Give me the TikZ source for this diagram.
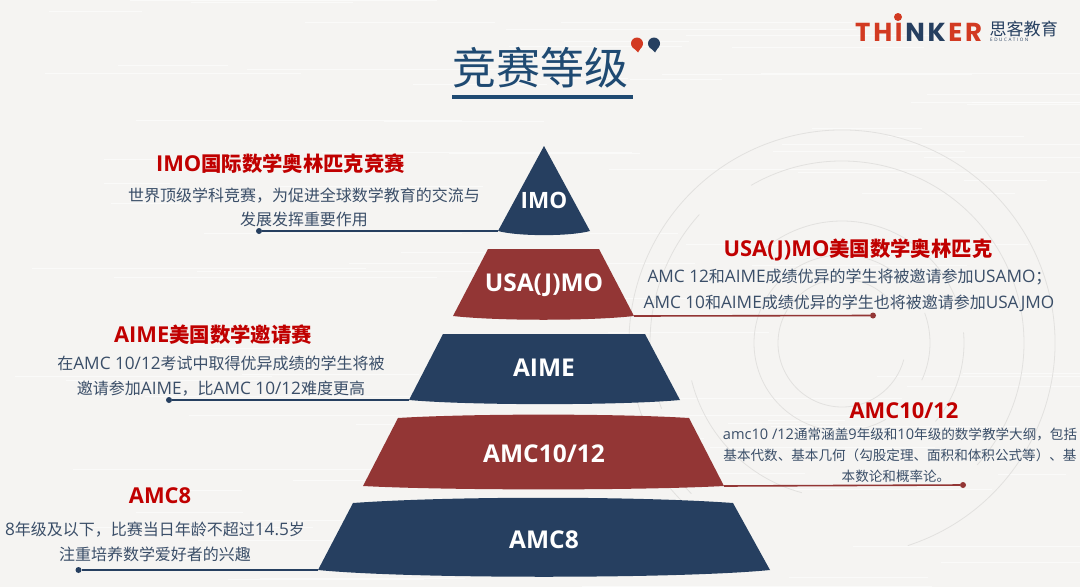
\documentclass[tikz,border=0pt]{standalone}
\usepackage{fontspec}
\setmainfont{Open Sans}
\newfontfamily\cjk[Scale=0.93]{Noto Sans CJK SC}
\newcommand{\CJ}[1]{{\cjk #1}}
\newfontfamily\logofont{Poppins}
\definecolor{bgc}{HTML}{F5F4F2}
\definecolor{navy}{HTML}{263F60}
\definecolor{brick}{HTML}{933635}
\definecolor{headred}{HTML}{C00000}
\definecolor{bodyc}{HTML}{3A4E68}
\definecolor{titlec}{HTML}{1F4A72}
\definecolor{ringc}{HTML}{E2E1DF}
\definecolor{logored}{HTML}{D23A22}
\newcommand{\LG}{\hspace{2.7pt}}
\tikzset{
  x=1pt,y=-1pt,
  layertext/.style={text=white,font=\fontsize{24.5}{24.5}\selectfont\bfseries,inner sep=0,anchor=base},
  headtext/.style={text=headred,font=\fontsize{21.9}{21.9}\selectfont\bfseries,inner sep=0,anchor=base},
  bodytext/.style={text=bodyc,font=\fontsize{17.2}{17.2}\selectfont,inner sep=0,anchor=base},
  smalltext/.style={text=bodyc,font=\fontsize{14.6}{14.6}\selectfont,inner sep=0,anchor=base},
  ring/.style={draw=ringc,line width=0.8pt},
  navyline/.style={draw=navy,line width=1.6pt},
  brickline/.style={draw=brick,line width=1.6pt},
  navydot/.style={circle,fill=navy,minimum size=6pt,inner sep=0},
  brickdot/.style={circle,fill=brick,minimum size=6pt,inner sep=0},
}
\begin{document}
\begin{tikzpicture}
\useasboundingbox (0,0) rectangle (1080,587);
\fill[bgc] (0,0) rectangle (1080,587);
% paper texture
\pgfmathsetseed{7}
\foreach \i in {1,...,90}{
  \pgfmathsetmacro{\yy}{rnd*587}
  \pgfmathsetmacro{\xa}{rnd*1000}
  \pgfmathsetmacro{\ll}{60+rnd*300}
  \draw[white,opacity=.55,line width=.7pt] (\xa,\yy) -- ++(\ll,0);
}
% rings
\begin{scope}[shift={(842,343)}]
  \draw[ring] (-35:64) arc[start angle=-35,end angle=-345,radius=64];
  \draw[ring] (-45:88) arc[start angle=-45,end angle=-300,radius=88];
  \draw[ring] (25:88) arc[start angle=25,end angle=-20,radius=88];
  \draw[ring] (-20:122) arc[start angle=-20,end angle=-130,radius=122];
  \draw[ring] (40:122) arc[start angle=40,end angle=-5,radius=122];
  \draw[ring] (166:155) arc[start angle=166,end angle=105,radius=155];
  \draw[ring] (-120:182) arc[start angle=-120,end angle=42,radius=182];
  \draw[ring] (-138:192) arc[start angle=-138,end angle=-200,radius=192];
  \draw[ring] (72:213) arc[start angle=72,end angle=-225,radius=213];
  \draw[ring] (120:225) arc[start angle=120,end angle=150,radius=225];
\end{scope}
% title
\node[text=titlec,font=\cjk\fontsize{47.3}{47.3}\selectfont,inner sep=0] (title) at (540.5,68) {竞赛等级};
\coordinate (ula) at (452,97);
\coordinate (ulb) at (633,97);
\draw[draw=titlec,line width=3.4pt] (ula) -- (ulb);
\fill[logored] (637,43.5) circle (6);
\fill[logored] (632.5,47) -- (641.5,47) -- (638,52.5) -- cycle;
\fill[navy] (654,43.5) circle (6);
\fill[navy] (649.5,47) -- (658.5,47) -- (655,52.5) -- cycle;
% logo
\node[font=\logofont\fontsize{26}{26}\selectfont\bfseries,inner sep=0,anchor=base west] (logo) at (855,41) {\textcolor{logored}{T}\LG\textcolor{logored}{H}\LG\textcolor{logored}{I}\LG\textcolor{navy}{N}\LG\textcolor{navy}{K}\LG\textcolor{logored}{E}\LG\textcolor{logored}{R}};
\fill[logored] (898,17) circle (4);
\node[text=navy,font=\cjk\fontsize{18.3}{18.3}\selectfont,inner sep=0,anchor=west] (logocn) at (989.5,29) {思客教育};
\node[text=navy,font=\fontsize{4.6}{4.6}\selectfont,inner sep=0,anchor=west] (logoen) at (990,40) {E\,\,D\,\,U\,\,C\,\,A\,\,T\,\,I\,\,O\,\,N};
% layers
\coordinate (imoL) at (498,231);
\coordinate (imoR) at (590,231);
\fill[navy] (544,146) -- (imoR) .. controls (570,236.5) and (518,236.5) .. (imoL) -- cycle;
\coordinate (usaL) at (453,316);
\coordinate (usaR) at (634,316);
\fill[brick] (488,249) -- (599,249) -- (usaR) .. controls (590,321) and (497,321) .. (usaL) -- cycle;
\coordinate (aimeL) at (409,400);
\coordinate (aimeR) at (680,400);
\fill[navy] (443,334) -- (645,334) -- (aimeR) .. controls (620,405.5) and (469,405.5) .. (aimeL) -- cycle;
\coordinate (amcL) at (363,486);
\coordinate (amcR) at (724,486);
\fill[brick] (398,418) .. controls (470,413.5) and (617,413.5) .. (689,418) -- (amcR) .. controls (640,490.5) and (447,490.5) .. (amcL) -- cycle;
\coordinate (eightL) at (318,570);
\coordinate (eightR) at (770,570);
\fill[navy] (353,503) .. controls (450,496) and (636,496) .. (733,503) -- (eightR) .. controls (680,579) and (408,579) .. (eightL) -- cycle;
% layer labels
\node[layertext,font=\fontsize{22.5}{22.5}\selectfont\bfseries] (limo) at (544,208) {IMO};
\node[layertext] (lusa) at (544,291) {USA(J)MO};
\node[layertext] (laime) at (544,376) {AIME};
\node[layertext] (lamc) at (544,462) {AMC10/12};
\node[layertext] (lei) at (544,548) {AMC8};
% descriptions
\node[headtext] (himo) at (280.5,171) {IMO\CJ{国际数学奥林匹克竞赛}};
\node[bodytext] (b1a) at (304,201) {\CJ{世界顶级学科竞赛，为促进全球数学教育的交流与}};
\node[bodytext] (b1b) at (304,225) {\CJ{发展发挥重要作用}};
\node[headtext] (haime) at (213,342) {AIME\CJ{美国数学邀请赛}};
\node[bodytext] (b3a) at (221,369) {\CJ{在}AMC 10/12\CJ{考试中取得优异成绩的学生将被}};
\node[bodytext] (b3b) at (221,394) {\CJ{邀请参加}AIME\CJ{，比}AMC 10/12\CJ{难度更高}};
\node[headtext] (heig) at (160,503) {AMC8};
\node[bodytext] (b5a) at (155,535) {8\CJ{年级及以下，比赛当日年龄不超过}14.5\CJ{岁}};
\node[bodytext] (b5b) at (155,560) {\CJ{注重培养数学爱好者的兴趣}};
\node[headtext] (husa) at (858,256) {USA(J)MO\CJ{美国数学奥林匹克}};
\node[bodytext] (b2a) at (849.5,282) {AMC 12\CJ{和}AIME\CJ{成绩优异的学生将被邀请参加}USAMO\CJ{；}};
\node[bodytext] (b2b) at (849,308) {AMC 10\CJ{和}AIME\CJ{成绩优异的学生也将被邀请参加}USAJMO};
\node[headtext] (hamc) at (904,418) {AMC10/12};
\node[smalltext] (b4a) at (900,439) {amc10 /12\CJ{通常涵盖}9\CJ{年级和}10\CJ{年级的数学教学大纲，包括}};
\node[smalltext] (b4b) at (900,460) {\CJ{基本代数、基本几何（勾股定理、面积和体积公式等）、基}};
\node[smalltext] (b4c) at (896,481) {\CJ{本数论和概率论。}};
% connectors
\node[navydot] (d1) at (259,231) {};
\draw[navyline] (d1) -- (imoL);
\node[brickdot] (d2) at (873,315.5) {};
\draw[brickline] (usaR) -- (d2);
\node[navydot] (d3) at (169,400) {};
\draw[navyline] (d3) -- (aimeL);
\node[brickdot] (d4) at (963,485) {};
\draw[brickline] (amcR) -- (d4);
\node[navydot] (d5) at (78.5,570) {};
\draw[navyline] (d5) -- (eightL);
\end{tikzpicture}
\end{document}
